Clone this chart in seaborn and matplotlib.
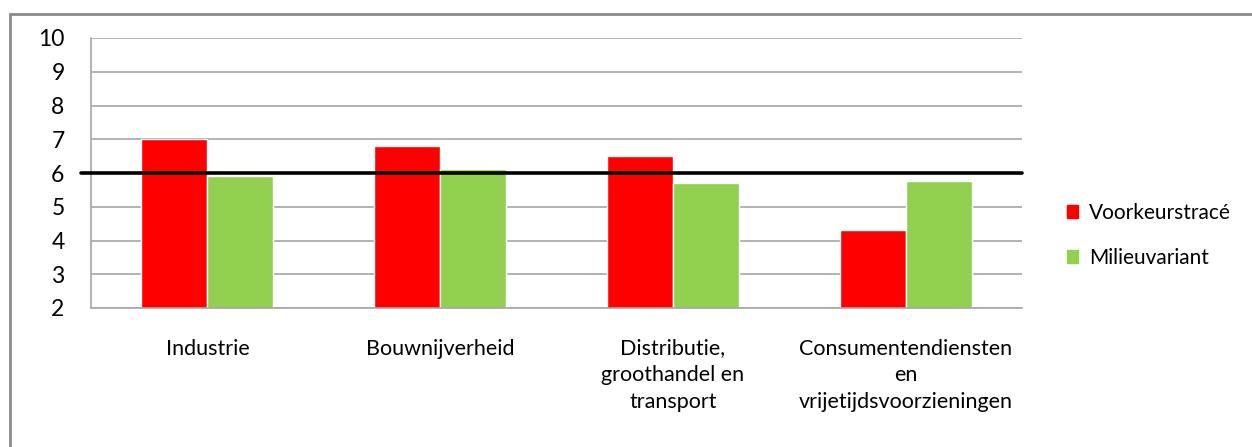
import matplotlib.pyplot as plt
import matplotlib.patches as mpatches
import pandas as pd
import seaborn as sns

categories = ["Industrie", "Bouwnijverheid", "Distributie,\ngroothandel en\ntransport",
              "Consumentendiensten\nen\nvrijetijdsvoorzieningen"]
voorkeur = [7.0, 6.8, 6.5, 4.3]
milieu = [5.9, 6.12, 5.7, 5.75]
series = ["Voorkeurstracé", "Milieuvariant"]
norm = 6

df = pd.DataFrame({
    "cat": categories * 2,
    "score": voorkeur + milieu,
    "serie": [series[0]] * 4 + [series[1]] * 4,
})

sns.set_theme(style="white")
plt.rcParams["font.family"] = ["Lato", "DejaVu Sans"]
plt.rcParams["text.color"] = "black"
plt.rcParams["xtick.color"] = "black"
plt.rcParams["ytick.color"] = "black"

fig = plt.figure(figsize=(12.52, 4.47), dpi=100)
ax = fig.add_axes([91 / 1252, 1 - 308 / 447, 931 / 1252, 270 / 447])

sns.barplot(data=df, x="cat", y="score", hue="serie", palette=["#ff0000", "#92d050"],
            width=0.567, saturation=1, ax=ax, zorder=2)

ax.set_ylim(2, 10)
ax.set_xlim(-0.5, 3.5)
ax.set_yticks(range(2, 11))
ax.set_xlabel("")
ax.set_ylabel("")
ax.grid(axis="y", color="#a6a6a6", linewidth=1.2, zorder=0)
ax.set_axisbelow(True)

# 6 = voldoende
ax.axhline(norm, xmin=-0.011, xmax=1, color="black", linewidth=2.6, clip_on=False, zorder=3)

for s in ["top", "right"]:
    ax.spines[s].set_visible(False)
for s in ["left", "bottom"]:
    ax.spines[s].set_color("#a6a6a6")
    ax.spines[s].set_linewidth(1.2)

ax.tick_params(axis="y", length=9, width=1.2, color="#a6a6a6", labelcolor="black",
               labelsize=16.5, pad=10)
ax.tick_params(axis="x", which="major", length=0, labelsize=15.5, labelcolor="black", pad=22)
ax.set_xticks([-0.5, 0.5, 1.5, 2.5, 3.5], minor=True)
ax.tick_params(axis="x", which="minor", length=8, width=1.2, color="#a6a6a6", direction="out")
for lbl in ax.get_xticklabels():
    lbl.set_linespacing(1.42)

handles = [mpatches.Patch(color="#ff0000"), mpatches.Patch(color="#92d050")]
ax.legend(handles, series, loc="center left", bbox_to_anchor=(1.028, 0.27), frameon=False,
          fontsize=15, handlelength=0.55, handleheight=0.55, handletextpad=0.5,
          labelspacing=1.2)

border = mpatches.Rectangle((10 / 1252, -0.1), 1.2, 1 - 14 / 447 + 0.1, transform=fig.transFigure,
                            fill=False, edgecolor="#8a8a8a", linewidth=2)
fig.patches.append(border)

fig.savefig("out.png", dpi=100)
